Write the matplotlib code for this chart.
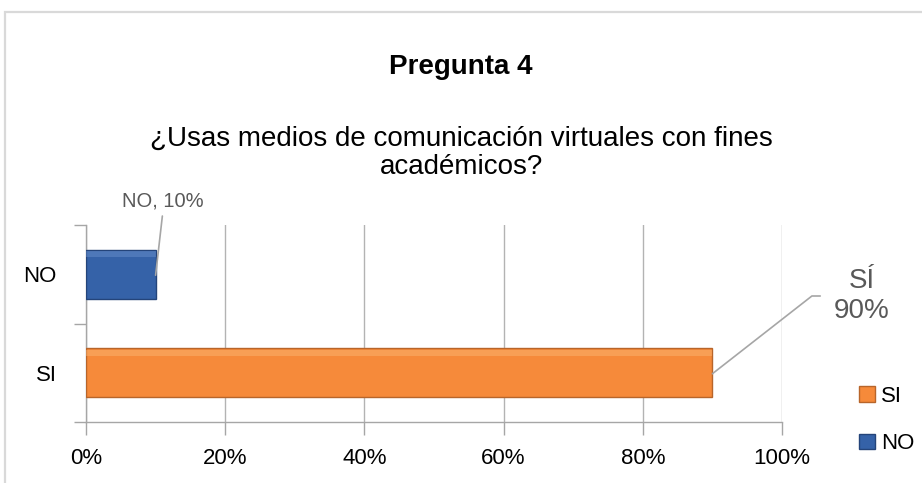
import matplotlib
matplotlib.use("Agg")
import matplotlib.pyplot as plt
from matplotlib.patches import Rectangle

plt.rcParams['font.family'] = ['Liberation Sans', 'DejaVu Sans']

# data
categories = ['SI', 'NO']
values = [90, 10]
colors = ['#F68A3A', '#3562A8']
edge_colors = ['#B8652A', '#24447A']
light_colors = ['#FBB978', '#6E93CE']
xticks = [0, 20, 40, 60, 80, 100]
xtick_labels = ['0%', '20%', '40%', '60%', '80%', '100%']

title = 'Pregunta 4'
subtitle = '¿Usas medios de comunicación virtuales con fines\nacadémicos?'

W, H = 922, 483
fig = plt.figure(figsize=(W / 100, H / 100), dpi=100)

# light grey outer frame of the chart object
fig.patches.append(Rectangle((5 / W, -0.2), 1.2, 1.2 - 12 / H,
                             transform=fig.transFigure, fill=False,
                             edgecolor='#D9D9D9', linewidth=1.6))

ax = fig.add_axes([86 / W, (H - 422) / H, (782 - 86) / W, (422 - 225) / H])

pos = list(range(len(categories)))
bar_h = 0.5
bars = ax.barh(pos, values, height=bar_h, color=colors, edgecolor=edge_colors,
               linewidth=1.0, zorder=3)
# soft bevel highlight near the top edge of each bar
ax.barh([p + bar_h / 2 - 0.045 for p in pos], values, height=0.06,
        color=light_colors, linewidth=0, zorder=4, alpha=0.45)

ax.set_xlim(0, 100)
ax.set_ylim(-0.5, len(categories) - 0.5)

ax.set_xticks(xticks)
ax.set_xticklabels(xtick_labels, fontsize=16)
ax.set_yticks([p - 0.5 for p in pos] + [len(categories) - 0.5])
ax.set_yticklabels([])
ax.set_yticks(pos, minor=True)
ax.set_yticklabels(categories, minor=True, fontsize=16)
ax.tick_params(axis='y', which='minor', length=0, pad=21)
ax.tick_params(axis='both', which='major', length=9, width=1, color='#A6A6A6')
ax.tick_params(axis='x', pad=10)

ax.grid(axis='x', color='#B3B3B3', linewidth=1, zorder=0)
for s in ['top', 'right']:
    ax.spines[s].set_visible(False)
for s in ['left', 'bottom']:
    ax.spines[s].set_color('#A6A6A6')
    ax.spines[s].set_linewidth(1)

# titles
fig.text(0.5, 1 - 67 / H, title, ha='center', va='center', fontsize=20,
         fontweight='bold')
fig.text(0.5, 1 - 153 / H, subtitle, ha='center', va='center', fontsize=20,
         linespacing=1.1)

# data labels with leader lines
ax.annotate('NO, 10%', xy=(values[1], pos[1] - 0.01), xycoords='data',
            xytext=(163 / W, 1 - 201 / H), textcoords='figure fraction',
            ha='center', va='center', fontsize=14.5, color='#595959',
            arrowprops=dict(arrowstyle='-', color='#A6A6A6', lw=1.2,
                            shrinkA=2, shrinkB=0, relpos=(0.5, 0)))
ax.annotate('SÍ\n90%', xy=(values[0], pos[0] - 0.01), xycoords='data',
            xytext=(862 / W, 1 - 296 / H), textcoords='figure fraction',
            ha='center', va='center', fontsize=20, color='#595959',
            linespacing=1.15, annotation_clip=False,
            arrowprops=dict(arrowstyle='-', color='#A6A6A6', lw=1.2,
                            shrinkA=8, shrinkB=0, relpos=(0, 0.5),
                            connectionstyle='angle,angleA=0,angleB=38,rad=0'))

# legend
leg = fig.legend(bars.patches, categories, loc='center left',
                 bbox_to_anchor=(859 / W, 1 - 420 / H), frameon=False,
                 fontsize=16, handlelength=0.7, handleheight=0.7,
                 handletextpad=0.3, labelspacing=1.2, borderpad=0,
                 borderaxespad=0)

fig.savefig('out.png', dpi=100)
